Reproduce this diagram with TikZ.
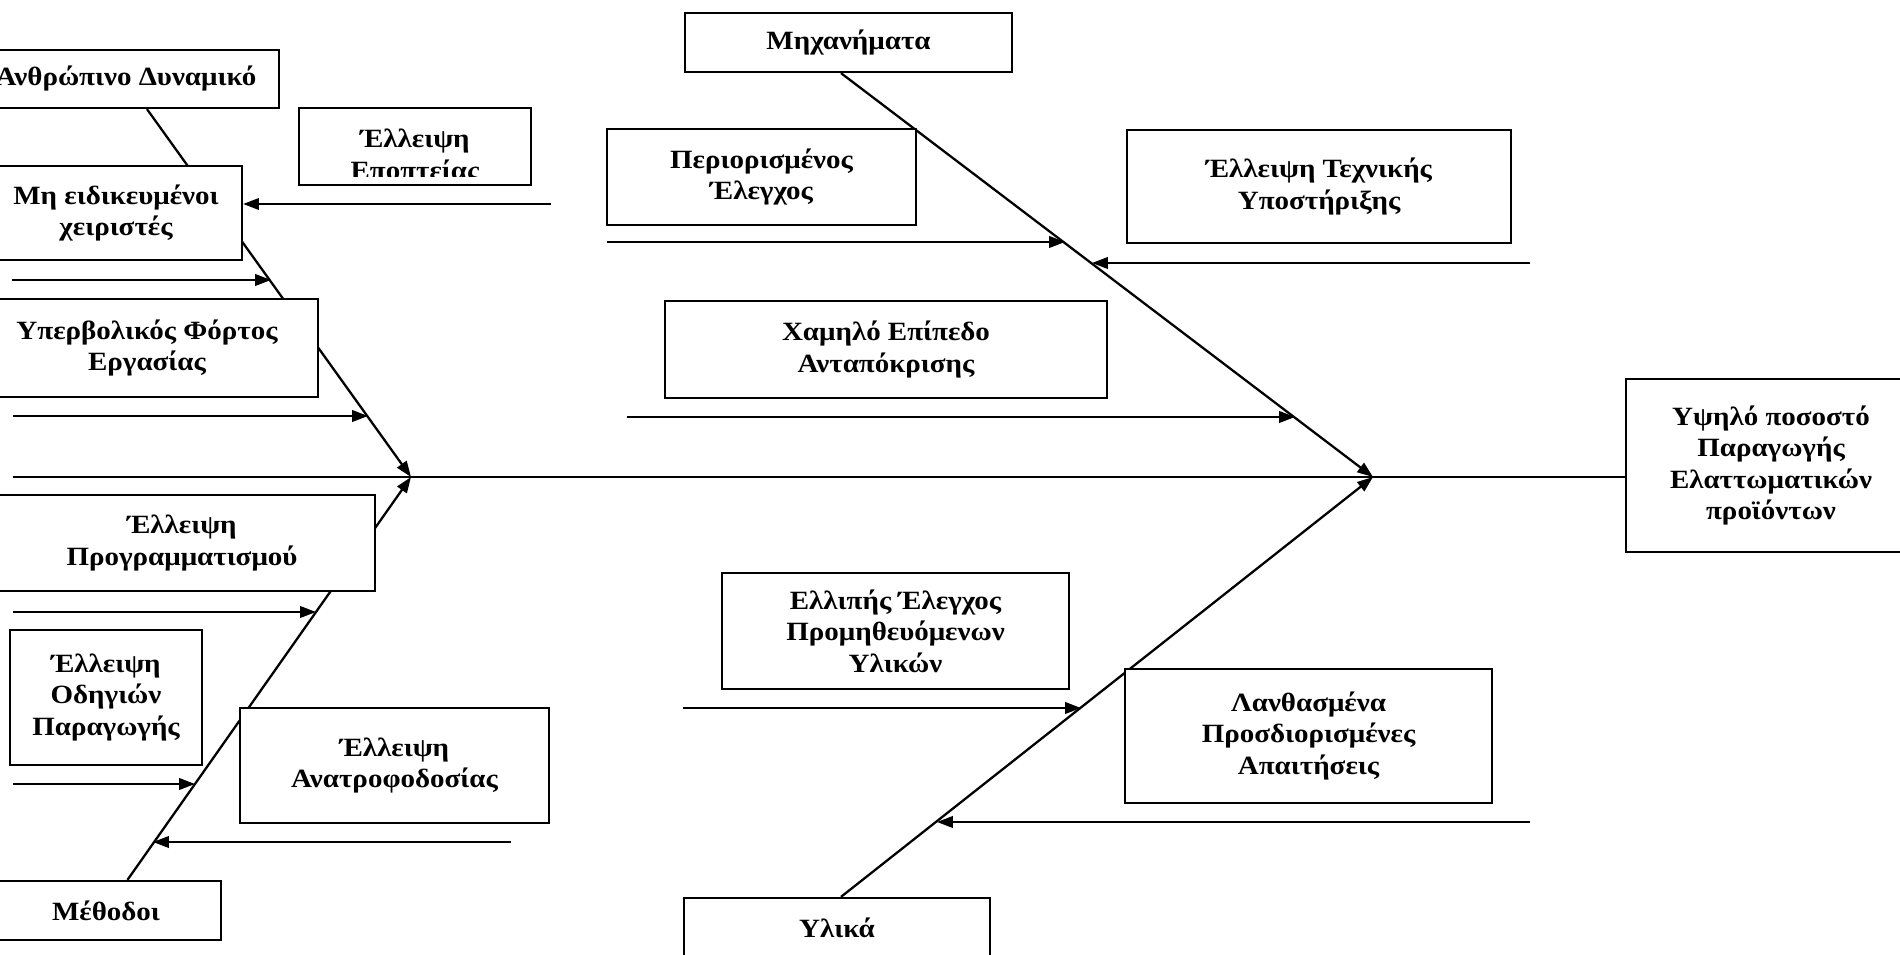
\documentclass[tikz,border=0pt]{standalone}
\usepackage{fontspec}
\setmainfont{Liberation Serif}
\newfontfamily\wideserif{Liberation Serif}[FakeStretch=1.1]
\usetikzlibrary{arrows.meta}

\begin{document}
\begin{tikzpicture}[x=0.02cm, y=-0.02cm,
        box/.style={draw, fill=white, line width=1.3pt, align=center, inner sep=0pt,
            font=\wideserif\bfseries\fontsize{15}{18}\selectfont},
        bone/.style={line width=1.3pt, -{Triangle[length=9pt,width=6.5pt]}}]
        \useasboundingbox (0, 0) rectangle (1900, 955);
        \clip (0, 0) rectangle (1900, 955);

        % heads of the bones and the effect
        \node[box, minimum width=6.12cm, minimum height=1.16cm] at (126, 79) (anthr) {Ανθρώπινο Δυναμικό};
        \node[box, minimum width=4.60cm, minimum height=1.18cm] at (106, 910.5) (meth) {Μέθοδοι};
        \node[box, minimum width=6.54cm, minimum height=1.18cm] at (848.5, 42.5) (mech) {Μηχανήματα};
        \node[box, minimum width=6.12cm, minimum height=1.20cm] at (837, 928) (ylika) {Υλικά};
        \node[box, minimum width=5.80cm, minimum height=3.46cm] at (1771, 465.5) (effect) {Υψηλό ποσοστό\\Παραγωγής\\Ελαττωματικών\\προϊόντων};

        \coordinate (sp) at (13, 477);
        \coordinate (jl) at (411, 477);
        \coordinate (jr) at (1373, 477);

        % spine and bones
        \draw[line width=1.3pt] (sp) -- (sp -| effect.west);
        \draw[bone] ([xshift=0.42cm]anthr.south) -- (jl);
        \draw[bone] (meth) -- (jl);
        \draw[bone] ([xshift=-0.15cm]mech.south) -- (jr);
        \draw[bone] ([xshift=0.08cm]ylika.north) -- (jr);

        % causes
        \node[box, minimum width=5.04cm, minimum height=1.88cm] at (116, 213) (mhe) {Μη ειδικευμένοι\\χειριστές};
        \node[box, minimum width=6.84cm, minimum height=1.96cm] at (147, 348) (fort) {Υπερβολικός Φόρτος\\Εργασίας};
        \node[box, minimum width=7.72cm, minimum height=1.92cm] at (182, 543) (progr) {Έλλειψη\\Προγραμματισμού};
        \node[box, minimum width=3.84cm, minimum height=2.70cm] at (106, 697.5) (odig) {Έλλειψη\\Οδηγιών\\Παραγωγής};
        \node[box, minimum width=6.18cm, minimum height=2.30cm] at (394.5, 765.5) (anatr) {Έλλειψη\\Ανατροφοδοσίας};
        \node[box, minimum width=4.64cm, minimum height=1.54cm,
            path picture={
                \clip (path picture bounding box.north west) rectangle ([yshift=0.17cm]path picture bounding box.south east);
                \node[align=center, font=\wideserif\bfseries\fontsize{15}{18}\selectfont] (epotxt)
                    at ([yshift=-0.2cm]path picture bounding box.center) {Έλλειψη\\Εποπτείας};}]
            at (415, 146.5) (epopt) {};
        \node[box, minimum width=6.18cm, minimum height=1.92cm] at (761.5, 177) (perior) {Περιορισμένος\\Έλεγχος};
        \node[box, minimum width=7.68cm, minimum height=2.26cm] at (1319, 186.5) (techn) {Έλλειψη Τεχνικής\\Υποστήριξης};
        \node[box, minimum width=8.84cm, minimum height=1.94cm] at (886, 349.5) (xamil) {Χαμηλό Επίπεδο\\Ανταπόκρισης};
        \node[box, minimum width=6.94cm, minimum height=2.32cm] at (895.5, 631) (ellip) {Ελλιπής Έλεγχος\\Προμηθευόμενων\\Υλικών};
        \node[box, minimum width=7.34cm, minimum height=2.68cm] at (1308.5, 736) (lanth) {Λανθασμένα\\Προσδιορισμένες\\Απαιτήσεις};

        % small arrows
        \coordinate (a1) at (551, 204);
        \coordinate (a2) at (12, 280);
        \coordinate (b2) at (271, 280);
        \coordinate (a3) at (13, 416);
        \coordinate (b3) at (368, 416);
        \coordinate (a4) at (13, 612);
        \coordinate (b4) at (316, 612);
        \coordinate (a5) at (13, 784);
        \coordinate (b5) at (195, 784);
        \coordinate (a6) at (511, 842);
        \coordinate (b6) at (153, 842);
        \coordinate (c1) at (607, 242);
        \coordinate (d1) at (1065, 242);
        \coordinate (c2) at (1530, 263);
        \coordinate (d2) at (1092, 263);
        \coordinate (c3) at (627, 417);
        \coordinate (d3) at (1295, 417);
        \coordinate (c4) at (683, 708);
        \coordinate (d4) at (1081, 708);
        \coordinate (c5) at (1530, 822);
        \coordinate (d5) at (937, 822);

        \draw[bone] (a1) -- (a1 -| mhe.east);
        \draw[bone] (a2) -- (b2);
        \draw[bone] (a3) -- (b3);
        \draw[bone] (a4) -- (b4);
        \draw[bone] (a5) -- (b5);
        \draw[bone] (a6) -- (b6);
        \draw[bone] (c1) -- (d1);
        \draw[bone] (c2) -- (d2);
        \draw[bone] (c3) -- (d3);
        \draw[bone] (c4) -- (d4);
        \draw[bone] (c5) -- (d5);
    \end{tikzpicture}
\end{document}
